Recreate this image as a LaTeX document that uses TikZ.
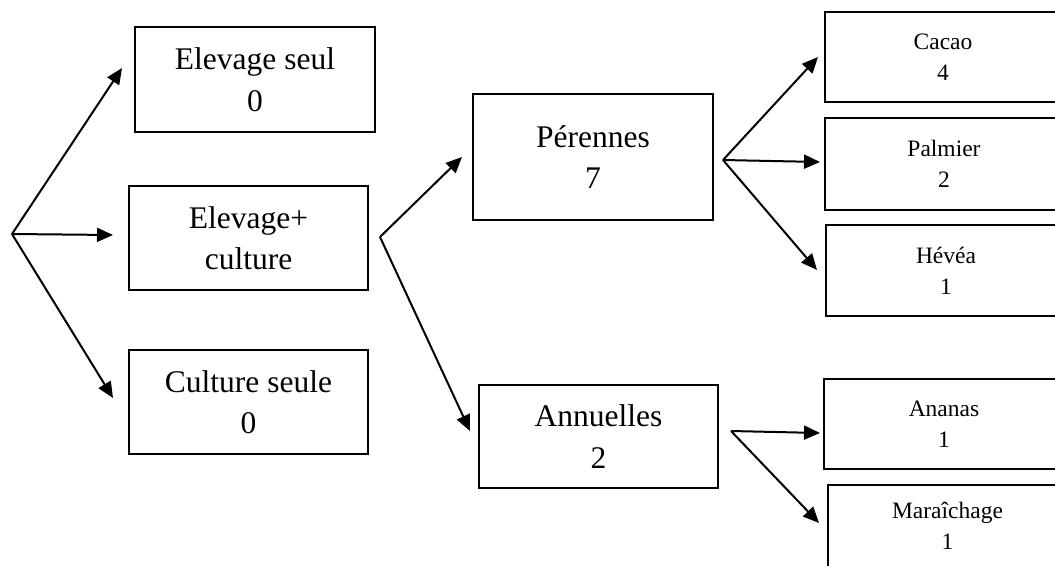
\documentclass[tikz,border=0pt]{standalone}
\usepackage{fontspec}
\setmainfont{Liberation Serif}
\usetikzlibrary{arrows.meta}

\begin{document}
\begin{tikzpicture}[x=1pt,y=-1pt,
  bigbox/.style={draw, line width=2.4pt, align=center, inner sep=0pt,
    font=\fontsize{31.5}{41.5}\selectfont},
  smallbox/.style={draw, line width=2.4pt, align=center, inner sep=0pt,
    font=\fontsize{23.5}{31}\selectfont},
  link/.style={line width=2pt, -{Triangle[length=16pt,width=14pt]}}]

\useasboundingbox (0,0) rectangle (1055,565);
\clip (0,0) rectangle (1055,565);

% first level
\node[bigbox, minimum width=240pt, minimum height=105pt] (es) at (255,79.5) {Elevage seul\\0};
\node[bigbox, minimum width=239pt, minimum height=104pt] (ec) at (248.5,238) {Elevage+\\culture};
\node[bigbox, minimum width=239pt, minimum height=104pt] (cs) at (248.5,402) {Culture seule\\0};

% second level
\node[bigbox, minimum width=240pt, minimum height=126pt] (pe) at (593,157) {Pérennes\\7};
\node[bigbox, minimum width=239pt, minimum height=103pt] (an) at (598.5,436.5) {Annuelles\\2};

% third level
\node[smallbox, minimum width=236pt, minimum height=90pt] (ca) at (943,57) {Cacao\\4};
\node[smallbox, minimum width=238pt, minimum height=92pt] (pa) at (944,164) {Palmier\\2};
\node[smallbox, minimum width=240pt, minimum height=91pt] (he) at (946,270.5) {Hévéa\\1};
\node[smallbox, minimum width=240pt, minimum height=90pt] (ana) at (944,424) {Ananas\\1};
\node[smallbox, minimum width=239pt, minimum height=82pt] (ma) at (947.5,526) {Maraîchage\\1};

% fork points and arrow ends
\coordinate (f0) at (12,234);
\coordinate (t-es) at (122,68);
\coordinate (t-ec) at (113,235);
\coordinate (t-cs) at (113,398);

\coordinate (f1) at (380,237);
\coordinate (t-pe) at (462,157);
\coordinate (t-an) at (470,431);

\coordinate (f2) at (723,160);
\coordinate (t-ca) at (818,57);
\coordinate (t-pa) at (820,162);
\coordinate (t-he) at (817,270);

\coordinate (f3) at (731,431);
\coordinate (t-ana) at (820,433);
\coordinate (t-ma) at (819,523);

\draw[link] (f0) -- (t-es);
\draw[link] (f0) -- (t-ec);
\draw[link] (f0) -- (t-cs);

\draw[link] (f1) -- (t-pe);
\draw[link] (f1) -- (t-an);

\draw[link] (f2) -- (t-ca);
\draw[link] (f2) -- (t-pa);
\draw[link] (f2) -- (t-he);

\draw[link] (f3) -- (t-ana);
\draw[link] (f3) -- (t-ma);
\end{tikzpicture}
\end{document}
